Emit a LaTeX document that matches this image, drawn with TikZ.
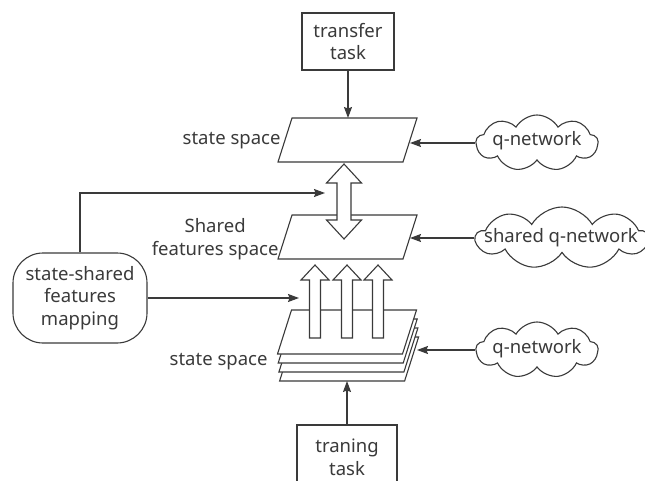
\documentclass[tikz,border=0pt]{standalone}
\usepackage{fontspec}
\setmainfont{Noto Sans}
\usetikzlibrary{shapes.symbols,arrows.meta}
\definecolor{ink}{HTML}{3A3A3A}
\begin{document}
\begin{tikzpicture}[x=1pt,y=-1pt,color=ink,line width=1.1pt,
  txt/.style={font=\fontsize{18.5}{22.5}\selectfont,align=center,inner sep=0},
  taskbox/.style={draw,rectangle,fill=white,inner sep=0,txt},
  parapic/.pic={
    \draw[fill=white,line join=miter] (-69.5,22) -- (55.5,22) -- (69.5,-22) -- (-55.5,-22) -- cycle;
    \coordinate (-east) at (62.5,0);
    \coordinate (-north) at (0,-22);
    \coordinate (-south) at (0,22);},
  cld/.style={cloud,cloud puffs=9,cloud puff arc=120,draw,fill=white,inner sep=0},
  arr/.style={-{Stealth[length=11pt,width=8pt,inset=1.5pt]}},
  blk/.style={draw,fill=white,line join=miter}]
\useasboundingbox (0,0) rectangle (645,481);
\clip (0,0) rectangle (645,481);

% top part
\node[taskbox,minimum width=92,minimum height=57] (tt) at (348,41.5) {transfer\\task};
\pic (ps1) at (347.5,140) {parapic};
\node[txt,anchor=east] (l1) at (281,141) {state space};
\node[cld,minimum width=122,minimum height=56] (c1) at (537,143) {};
\node[txt] (c1t) at (537,141) {q-network};

% middle
\pic (ps2) at (347.5,237) {parapic};
\node[txt,anchor=east] (l2) at (279,239) {Shared\\features space};
\node[cld,minimum width=172,minimum height=62] (c2) at (562,238) {};
\node[txt] (c2t) at (561,238) {shared q-network};

% stack
\pic (s4) at (349.1,359) {parapic};
\pic (s3) at (348.4,350) {parapic};
\pic (s2) at (347.7,341) {parapic};
\pic (s1) at (347,332) {parapic};
\node[txt,anchor=east] (l3) at (268,362) {state space};
\node[cld,minimum width=122,minimum height=56] (c3) at (537,350) {};
\node[txt] (c3t) at (537,349) {q-network};

% mapping
\node[draw,rounded corners=30,minimum width=134,minimum height=90,txt] (map) at (80,298)
  {state-shared\\features\\mapping};

% training
\node[taskbox,minimum width=100,minimum height=65] (tr) at (347,457.5) {traning\\task};

% block arrows
\draw[blk] (344,164) -- (361.5,183) -- (351,183) -- (351,220) -- (361.5,220) -- (344,239)
  -- (326.5,220) -- (337,220) -- (337,183) -- (326.5,183) -- cycle;
\foreach \cx in {315,347,378}{
  \draw[blk] (\cx,265) -- (\cx+14,280) -- (\cx+5.5,280) -- (\cx+5.5,338) -- (\cx-5.5,338)
    -- (\cx-5.5,280) -- (\cx-14,280) -- cycle;
}

% connectors
\coordinate (topin) at (325,193);
\coordinate (sidein) at (299,298);
\coordinate (stackin) at (417,350);
\draw[arr] (tt.south) -- (tt.south |- ps1-north);
\draw[arr] (c1.west) -- (c1.west -| ps1-east);
\draw[arr] (c2.west) -- (c2.west -| ps2-east);
\draw[arr] (c3.west |- stackin) -- (stackin);
\draw[arr] (map.north) |- (topin);
\draw[arr] (map.east) -- (sidein);
\draw[arr] (tr.north) -- (tr.north |- s4-south);
\end{tikzpicture}
\end{document}
